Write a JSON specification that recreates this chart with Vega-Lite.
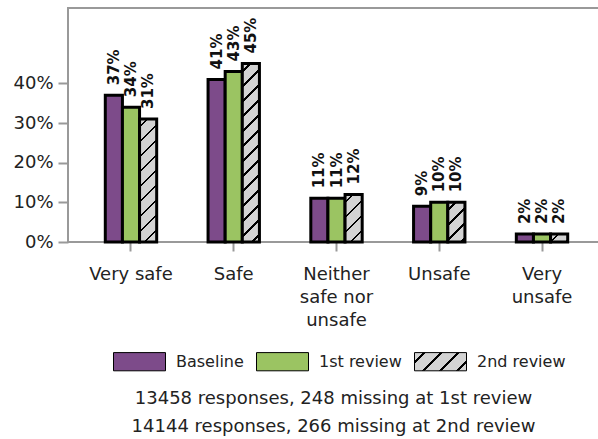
{
  "$schema": "https://vega.github.io/schema/vega-lite/v6.json",
  "width": 537,
  "height": 234,
  "padding": {"left": 12, "top": 8, "right": 0, "bottom": 0},
  "config": {
    "font": "DejaVu Sans",
    "view": {"stroke": "#999999", "strokeWidth": 2},
    "axis": {"domain": false, "grid": false, "tickColor": "#999999", "tickWidth": 2, "labelColor": "#222222", "labelFontSize": 18, "title": null}
  },
  "title": {
    "text": ["13458 responses, 248 missing at 1st review", "14144 responses, 266 missing at 2nd review"],
    "orient": "bottom",
    "anchor": "middle",
    "fontSize": 18,
    "fontWeight": "normal",
    "color": "#222222",
    "lineHeight": 28,
    "offset": 17,
    "dx": -3
  },
  "data": {
    "values": [
      {"cat": "Very safe", "series": "Baseline", "value": 0.37},
      {"cat": "Very safe", "series": "1st review", "value": 0.34},
      {"cat": "Very safe", "series": "2nd review", "value": 0.31},
      {"cat": "Safe", "series": "Baseline", "value": 0.41},
      {"cat": "Safe", "series": "1st review", "value": 0.43},
      {"cat": "Safe", "series": "2nd review", "value": 0.45},
      {"cat": "Neither safe nor unsafe", "series": "Baseline", "value": 0.11},
      {"cat": "Neither safe nor unsafe", "series": "1st review", "value": 0.11},
      {"cat": "Neither safe nor unsafe", "series": "2nd review", "value": 0.12},
      {"cat": "Unsafe", "series": "Baseline", "value": 0.09},
      {"cat": "Unsafe", "series": "1st review", "value": 0.10},
      {"cat": "Unsafe", "series": "2nd review", "value": 0.10},
      {"cat": "Very unsafe", "series": "Baseline", "value": 0.02},
      {"cat": "Very unsafe", "series": "1st review", "value": 0.02},
      {"cat": "Very unsafe", "series": "2nd review", "value": 0.02}
    ]
  },
  "encoding": {
    "x": {
      "field": "cat", "type": "nominal",
      "sort": ["Very safe", "Safe", "Neither safe nor unsafe", "Unsafe", "Very unsafe"],
      "scale": {"paddingInner": 0.5, "paddingOuter": 0.363},
      "axis": {
        "labelAngle": 0, "tickSize": 9, "labelPadding": 14, "labelLineHeight": 23,
        "labelExpr": "datum.value == 'Neither safe nor unsafe' ? ['Neither', 'safe nor', 'unsafe'] : datum.value == 'Very unsafe' ? ['Very', 'unsafe'] : datum.label"
      }
    },
    "xOffset": {"field": "series", "type": "nominal", "sort": ["Baseline", "1st review", "2nd review"]},
    "y": {
      "field": "value", "type": "quantitative",
      "scale": {"domain": [0, 0.59], "nice": false},
      "axis": {"format": ".0%", "values": [0, 0.1, 0.2, 0.3, 0.4], "tickSize": 10, "labelPadding": 5}
    }
  },
  "layer": [
    {
      "mark": {"type": "bar", "stroke": "black", "strokeWidth": 3},
      "encoding": {
        "fill": {
          "condition": [
            {"test": "datum.series === '2nd review' && datum.cat === 'Very safe'", "value": {"gradient": "linear", "x1": 0, "y1": 0, "x2": 0.1555, "y2": 1.1175, "stops": [
              {"offset": 0, "color": "#d3d3d3"},
              {"offset": 0.0482, "color": "#d3d3d3"}, {"offset": 0.0482, "color": "#000000"}, {"offset": 0.0661, "color": "#000000"}, {"offset": 0.0661, "color": "#d3d3d3"},
              {"offset": 0.1554, "color": "#d3d3d3"}, {"offset": 0.1554, "color": "#000000"}, {"offset": 0.1732, "color": "#000000"}, {"offset": 0.1732, "color": "#d3d3d3"},
              {"offset": 0.2625, "color": "#d3d3d3"}, {"offset": 0.2625, "color": "#000000"}, {"offset": 0.2804, "color": "#000000"}, {"offset": 0.2804, "color": "#d3d3d3"},
              {"offset": 0.3696, "color": "#d3d3d3"}, {"offset": 0.3696, "color": "#000000"}, {"offset": 0.3875, "color": "#000000"}, {"offset": 0.3875, "color": "#d3d3d3"},
              {"offset": 0.4768, "color": "#d3d3d3"}, {"offset": 0.4768, "color": "#000000"}, {"offset": 0.4946, "color": "#000000"}, {"offset": 0.4946, "color": "#d3d3d3"},
              {"offset": 0.5839, "color": "#d3d3d3"}, {"offset": 0.5839, "color": "#000000"}, {"offset": 0.6018, "color": "#000000"}, {"offset": 0.6018, "color": "#d3d3d3"},
              {"offset": 0.6911, "color": "#d3d3d3"}, {"offset": 0.6911, "color": "#000000"}, {"offset": 0.7089, "color": "#000000"}, {"offset": 0.7089, "color": "#d3d3d3"},
              {"offset": 0.7982, "color": "#d3d3d3"}, {"offset": 0.7982, "color": "#000000"}, {"offset": 0.8161, "color": "#000000"}, {"offset": 0.8161, "color": "#d3d3d3"},
              {"offset": 0.9054, "color": "#d3d3d3"}, {"offset": 0.9054, "color": "#000000"}, {"offset": 0.9232, "color": "#000000"}, {"offset": 0.9232, "color": "#d3d3d3"},
              {"offset": 1, "color": "#d3d3d3"}
            ]}},
            {"test": "datum.series === '2nd review' && datum.cat === 'Safe'", "value": {"gradient": "linear", "x1": 0, "y1": 0, "x2": 0.1040, "y2": 1.0858, "stops": [
              {"offset": 0, "color": "#d3d3d3"},
              {"offset": 0.0345, "color": "#d3d3d3"}, {"offset": 0.0345, "color": "#000000"}, {"offset": 0.0473, "color": "#000000"}, {"offset": 0.0473, "color": "#d3d3d3"},
              {"offset": 0.1112, "color": "#d3d3d3"}, {"offset": 0.1112, "color": "#000000"}, {"offset": 0.1240, "color": "#000000"}, {"offset": 0.1240, "color": "#d3d3d3"},
              {"offset": 0.1879, "color": "#d3d3d3"}, {"offset": 0.1879, "color": "#000000"}, {"offset": 0.2007, "color": "#000000"}, {"offset": 0.2007, "color": "#d3d3d3"},
              {"offset": 0.2646, "color": "#d3d3d3"}, {"offset": 0.2646, "color": "#000000"}, {"offset": 0.2774, "color": "#000000"}, {"offset": 0.2774, "color": "#d3d3d3"},
              {"offset": 0.3413, "color": "#d3d3d3"}, {"offset": 0.3413, "color": "#000000"}, {"offset": 0.3540, "color": "#000000"}, {"offset": 0.3540, "color": "#d3d3d3"},
              {"offset": 0.4179, "color": "#d3d3d3"}, {"offset": 0.4179, "color": "#000000"}, {"offset": 0.4307, "color": "#000000"}, {"offset": 0.4307, "color": "#d3d3d3"},
              {"offset": 0.4946, "color": "#d3d3d3"}, {"offset": 0.4946, "color": "#000000"}, {"offset": 0.5074, "color": "#000000"}, {"offset": 0.5074, "color": "#d3d3d3"},
              {"offset": 0.5713, "color": "#d3d3d3"}, {"offset": 0.5713, "color": "#000000"}, {"offset": 0.5841, "color": "#000000"}, {"offset": 0.5841, "color": "#d3d3d3"},
              {"offset": 0.6480, "color": "#d3d3d3"}, {"offset": 0.6480, "color": "#000000"}, {"offset": 0.6608, "color": "#000000"}, {"offset": 0.6608, "color": "#d3d3d3"},
              {"offset": 0.7247, "color": "#d3d3d3"}, {"offset": 0.7247, "color": "#000000"}, {"offset": 0.7375, "color": "#000000"}, {"offset": 0.7375, "color": "#d3d3d3"},
              {"offset": 0.8014, "color": "#d3d3d3"}, {"offset": 0.8014, "color": "#000000"}, {"offset": 0.8142, "color": "#000000"}, {"offset": 0.8142, "color": "#d3d3d3"},
              {"offset": 0.8781, "color": "#d3d3d3"}, {"offset": 0.8781, "color": "#000000"}, {"offset": 0.8908, "color": "#000000"}, {"offset": 0.8908, "color": "#d3d3d3"},
              {"offset": 0.9548, "color": "#d3d3d3"}, {"offset": 0.9548, "color": "#000000"}, {"offset": 0.9675, "color": "#000000"}, {"offset": 0.9675, "color": "#d3d3d3"},
              {"offset": 1, "color": "#d3d3d3"}
            ]}},
            {"test": "datum.series === '2nd review' && datum.cat === 'Neither safe nor unsafe'", "value": {"gradient": "linear", "x1": 0, "y1": 0, "x2": 0.4325, "y2": 1.2038, "stops": [
              {"offset": 0, "color": "#d3d3d3"},
              {"offset": 0.1043, "color": "#d3d3d3"}, {"offset": 0.1043, "color": "#000000"}, {"offset": 0.1430, "color": "#000000"}, {"offset": 0.1430, "color": "#d3d3d3"},
              {"offset": 0.3362, "color": "#d3d3d3"}, {"offset": 0.3362, "color": "#000000"}, {"offset": 0.3748, "color": "#000000"}, {"offset": 0.3748, "color": "#d3d3d3"},
              {"offset": 0.5680, "color": "#d3d3d3"}, {"offset": 0.5680, "color": "#000000"}, {"offset": 0.6066, "color": "#000000"}, {"offset": 0.6066, "color": "#d3d3d3"},
              {"offset": 0.7998, "color": "#d3d3d3"}, {"offset": 0.7998, "color": "#000000"}, {"offset": 0.8385, "color": "#000000"}, {"offset": 0.8385, "color": "#d3d3d3"},
              {"offset": 1, "color": "#d3d3d3"}
            ]}},
            {"test": "datum.series === '2nd review' && datum.cat === 'Unsafe'", "value": {"gradient": "linear", "x1": 0, "y1": 0, "x2": 0.5198, "y2": 1.2069, "stops": [
              {"offset": 0, "color": "#d3d3d3"},
              {"offset": 0.1188, "color": "#d3d3d3"}, {"offset": 0.1188, "color": "#000000"}, {"offset": 0.1629, "color": "#000000"}, {"offset": 0.1629, "color": "#d3d3d3"},
              {"offset": 0.3829, "color": "#d3d3d3"}, {"offset": 0.3829, "color": "#000000"}, {"offset": 0.4269, "color": "#000000"}, {"offset": 0.4269, "color": "#d3d3d3"},
              {"offset": 0.6470, "color": "#d3d3d3"}, {"offset": 0.6470, "color": "#000000"}, {"offset": 0.6910, "color": "#000000"}, {"offset": 0.6910, "color": "#d3d3d3"},
              {"offset": 0.9111, "color": "#d3d3d3"}, {"offset": 0.9111, "color": "#000000"}, {"offset": 0.9551, "color": "#000000"}, {"offset": 0.9551, "color": "#d3d3d3"},
              {"offset": 1, "color": "#d3d3d3"}
            ]}},
            {"test": "datum.series === '2nd review' && datum.cat === 'Very unsafe'", "value": {"gradient": "linear", "x1": 0, "y1": 0, "x2": 1.2049, "y2": 0.5566, "stops": [
              {"offset": 0, "color": "#d3d3d3"},
              {"offset": 0.27, "color": "#d3d3d3"}, {"offset": 0.27, "color": "#000000"}, {"offset": 0.37, "color": "#000000"}, {"offset": 0.37, "color": "#d3d3d3"},
              {"offset": 0.87, "color": "#d3d3d3"}, {"offset": 0.87, "color": "#000000"}, {"offset": 0.97, "color": "#000000"}, {"offset": 0.97, "color": "#d3d3d3"},
              {"offset": 1, "color": "#d3d3d3"}
            ]}}
          ],
          "field": "series", "type": "nominal",
          "scale": {"domain": ["Baseline", "1st review", "2nd review"], "range": ["#7d4b8a", "#9bc462", {"expr": "{'gradient': 'linear', 'x1': 0, 'y1': 0, 'x2': 1.2027, 'y2': 0.421, 'stops': [{'offset': 0, 'color': '#d3d3d3'}, {'offset': 0.1239, 'color': '#d3d3d3'}, {'offset': 0.1239, 'color': '#000000'}, {'offset': 0.161, 'color': '#000000'}, {'offset': 0.161, 'color': '#d3d3d3'}, {'offset': 0.3661, 'color': '#d3d3d3'}, {'offset': 0.3661, 'color': '#000000'}, {'offset': 0.4031, 'color': '#000000'}, {'offset': 0.4031, 'color': '#d3d3d3'}, {'offset': 0.6083, 'color': '#d3d3d3'}, {'offset': 0.6083, 'color': '#000000'}, {'offset': 0.6453, 'color': '#000000'}, {'offset': 0.6453, 'color': '#d3d3d3'}, {'offset': 0.8504, 'color': '#d3d3d3'}, {'offset': 0.8504, 'color': '#000000'}, {'offset': 0.8875, 'color': '#000000'}, {'offset': 0.8875, 'color': '#d3d3d3'}, {'offset': 1, 'color': '#d3d3d3'}]}"}]},
          "legend": {
            "orient": "none", "legendX": 45, "legendY": 327, "direction": "horizontal", "title": null,
            "symbolType": "M-1,-0.35L1,-0.35L1,0.35L-1,0.35Z", "symbolSize": 2704,
            "symbolStrokeColor": "black", "symbolStrokeWidth": 1, "labelFontSize": 16, "labelColor": "#222222",
            "labelOffset": 10, "columnPadding": 10, "padding": 0
          }
        }
      }
    },
    {
      "mark": {"type": "text", "angle": 270, "align": "left", "baseline": "middle", "dx": 10, "fontWeight": "bold", "fontSize": 15, "color": "#111111"},
      "encoding": {"text": {"field": "value", "type": "quantitative", "format": ".0%"}}
    }
  ]
}
